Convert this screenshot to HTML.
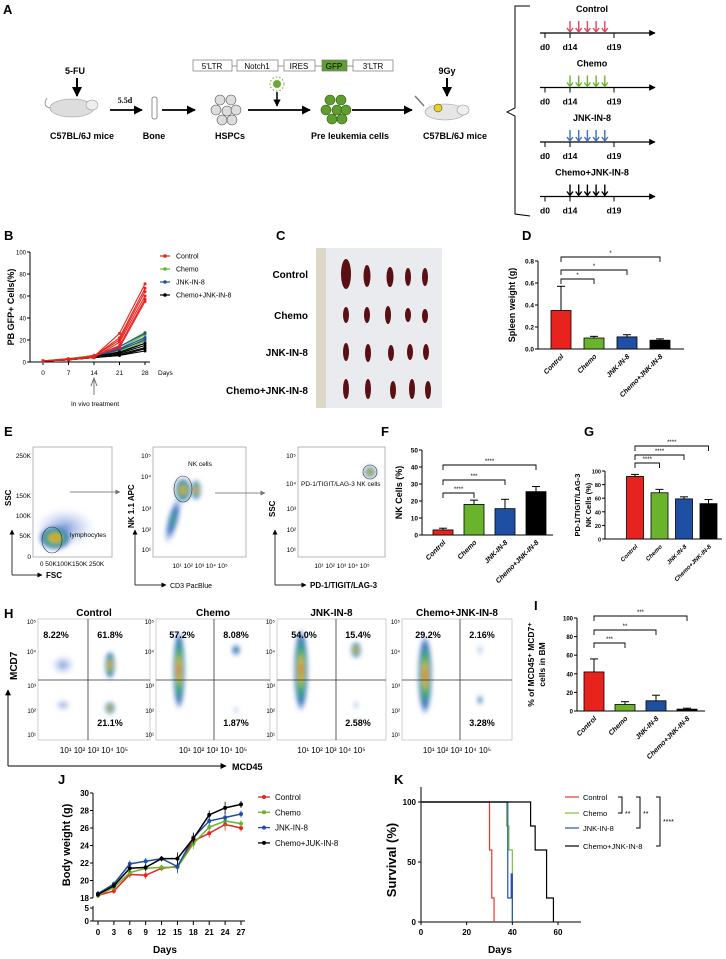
<!DOCTYPE html>
<html><head><meta charset="utf-8"><style>
html,body{margin:0;padding:0;background:#fff;}
svg{display:block;font-family:"Liberation Sans",Arial,sans-serif;}
.b{font-weight:bold;}
</style></head><body>
<svg id="fig" width="726" height="959" viewBox="0 0 726 959" xmlns="http://www.w3.org/2000/svg">
<defs>
<marker id="ah" viewBox="0 0 10 10" refX="9" refY="5" markerWidth="5" markerHeight="5" orient="auto"><path d="M0,0 L10,5 L0,10 z" fill="#000"/></marker>
<marker id="ahg" viewBox="0 0 10 10" refX="9" refY="5" markerWidth="5" markerHeight="5" orient="auto"><path d="M0,0 L10,5 L0,10 z" fill="#777"/></marker>
<filter id="bl" x="-50%" y="-50%" width="200%" height="200%"><feGaussianBlur stdDeviation="2.5"/></filter>
<radialGradient id="dens"><stop offset="0" stop-color="#e0302a"/><stop offset="0.25" stop-color="#f2c21c"/><stop offset="0.5" stop-color="#3cb46c"/><stop offset="0.8" stop-color="#3d6fc4"/><stop offset="1" stop-color="#3d6fc4" stop-opacity="0"/></radialGradient>
<radialGradient id="densb"><stop offset="0" stop-color="#3cb46c"/><stop offset="0.5" stop-color="#3d6fc4"/><stop offset="1" stop-color="#8aa4dd" stop-opacity="0"/></radialGradient>
<radialGradient id="densl"><stop offset="0" stop-color="#5a7fd0" stop-opacity="0.8"/><stop offset="1" stop-color="#a8b9e8" stop-opacity="0"/></radialGradient>
</defs>

<!-- PANEL A -->
<g>
<text x="3" y="14" class="b" font-size="13">A</text>
<text x="75" y="74" class="b" font-size="9" text-anchor="middle">5-FU</text>
<line x1="77" y1="78" x2="77" y2="96" stroke="#000" stroke-width="2" marker-end="url(#ah)"/>
<g><ellipse cx="72" cy="108" rx="22" ry="9" fill="#ddd" stroke="#999" stroke-width="0.6"/><ellipse cx="92" cy="105" rx="6" ry="5" fill="#eee" stroke="#999" stroke-width="0.6"/><path d="M50,108 q-8,-2 -3,-10" stroke="#999" fill="none"/></g>
<text x="82" y="139" class="b" font-size="9" text-anchor="middle">C57BL/6J mice</text>
<text x="125" y="103" class="b" font-size="8" font-family="Liberation Serif" text-anchor="middle">5.5d</text>
<line x1="110" y1="110" x2="142" y2="110" stroke="#000" stroke-width="1.8" marker-end="url(#ah)"/>
<rect x="152" y="97" width="5" height="22" rx="2" fill="#fff" stroke="#777" stroke-width="0.8"/>
<text x="154" y="139" class="b" font-size="9" text-anchor="middle">Bone</text>
<line x1="162" y1="110" x2="195" y2="110" stroke="#000" stroke-width="1.8" marker-end="url(#ah)"/>
<g fill="#ddd" stroke="#555" stroke-width="0.6">
<circle cx="220" cy="100" r="5"/><circle cx="231" cy="100" r="5"/><circle cx="216" cy="110" r="5"/><circle cx="227" cy="111" r="5"/><circle cx="236" cy="110" r="5"/><circle cx="222" cy="120" r="5"/><circle cx="232" cy="120" r="5"/></g>
<text x="230" y="139" class="b" font-size="9" text-anchor="middle">HSPCs</text>
<g font-size="8" text-anchor="middle" stroke-width="0.7">
<line x1="193" y1="66" x2="393" y2="66" stroke="#777"/>
<rect x="193" y="60" width="39" height="11" fill="#fff" stroke="#777"/><text x="212" y="69">5'LTR</text>
<rect x="237" y="60" width="41" height="11" fill="#fff" stroke="#777"/><text x="257" y="69">Notch1</text>
<rect x="284" y="60" width="31" height="11" fill="#fff" stroke="#777"/><text x="299" y="69">IRES</text>
<rect x="322" y="60" width="25" height="11" fill="#5f9e2e" stroke="#777"/><text x="334" y="69">GFP</text>
<rect x="353" y="60" width="40" height="11" fill="#fff" stroke="#777"/><text x="373" y="69">3'LTR</text></g>
<circle cx="277" cy="84" r="4" fill="#6aa832"/>
<circle cx="277" cy="84" r="7" fill="none" stroke="#6aa832" stroke-dasharray="1.5 2"/>
<line x1="277" y1="92" x2="277" y2="106" stroke="#000" stroke-width="1.5" marker-end="url(#ah)"/>
<line x1="248" y1="110" x2="310" y2="110" stroke="#000" stroke-width="1.8" marker-end="url(#ah)"/>
<g fill="#5f9e2e" stroke="#2e5a14" stroke-width="0.6">
<circle cx="330" cy="100" r="5"/><circle cx="341" cy="100" r="5"/><circle cx="326" cy="110" r="5"/><circle cx="337" cy="110" r="5"/><circle cx="346" cy="110" r="5"/><circle cx="332" cy="119" r="5"/><circle cx="342" cy="119" r="5"/></g>
<text x="350" y="139" class="b" font-size="9" text-anchor="middle">Pre leukemia cells</text>
<line x1="352" y1="110" x2="412" y2="110" stroke="#000" stroke-width="1.8" marker-end="url(#ah)"/>
<text x="447" y="74" class="b" font-size="9" text-anchor="middle">9Gy</text>
<line x1="447" y1="78" x2="447" y2="96" stroke="#000" stroke-width="2" marker-end="url(#ah)"/>
<g><ellipse cx="445" cy="112" rx="20" ry="8" fill="#e6e6e6" stroke="#999" stroke-width="0.6"/><ellipse cx="463" cy="110" rx="6" ry="5" fill="#eee" stroke="#999" stroke-width="0.6"/><circle cx="438" cy="108" r="4" fill="#e8d21c" stroke="#333" stroke-width="0.5"/><line x1="415" y1="96" x2="424" y2="106" stroke="#777" stroke-width="1.5"/></g>
<text x="455" y="139" class="b" font-size="9" text-anchor="middle">C57BL/6J mice</text>
<path d="M530,6 L515,6 L515,108 L507,112 L515,116 L515,214 L530,216" fill="none" stroke="#000" stroke-width="1"/>
</g>
<g id="timelines"></g>

<!-- Panel letters -->
<text x="4" y="240" class="b" font-size="13">B</text>
<text x="276" y="240" class="b" font-size="13">C</text>
<text x="522" y="240" class="b" font-size="13">D</text>
<text x="4" y="436" class="b" font-size="13">E</text>
<text x="381" y="436" class="b" font-size="13">F</text>
<text x="584" y="436" class="b" font-size="13">G</text>
<text x="4" y="618" class="b" font-size="13">H</text>
<text x="534" y="610" class="b" font-size="13">I</text>
<text x="58" y="784" class="b" font-size="13">J</text>
<text x="394" y="784" class="b" font-size="13">K</text>

<!-- PANEL C photo -->
<g>
<rect x="316" y="248" width="126" height="160" fill="#e9ebef"/>
<rect x="316" y="248" width="10" height="160" fill="#ddd7c8"/>
<g fill="#5a0f14">
<ellipse cx="346" cy="274" rx="5" ry="15"/><ellipse cx="367" cy="276" rx="3.5" ry="11"/><ellipse cx="390" cy="277" rx="3.5" ry="10"/><ellipse cx="408" cy="277" rx="3" ry="9"/><ellipse cx="425" cy="277" rx="3" ry="9"/>
<ellipse cx="346" cy="315" rx="3" ry="8"/><ellipse cx="367" cy="315" rx="3" ry="8"/><ellipse cx="388" cy="315" rx="3" ry="9"/><ellipse cx="408" cy="315" rx="3" ry="7"/><ellipse cx="425" cy="316" rx="3" ry="7"/>
<ellipse cx="346" cy="352" rx="3" ry="9"/><ellipse cx="368" cy="353" rx="3" ry="9"/><ellipse cx="391" cy="353" rx="3" ry="8"/><ellipse cx="410" cy="352" rx="3" ry="8"/><ellipse cx="426" cy="352" rx="3" ry="8"/>
<ellipse cx="346" cy="389" rx="3" ry="10"/><ellipse cx="368" cy="389" rx="3" ry="10"/><ellipse cx="393" cy="390" rx="3" ry="9"/><ellipse cx="412" cy="389" rx="3" ry="10"/><ellipse cx="428" cy="390" rx="3" ry="9"/></g>
<g class="b" font-size="10" text-anchor="end">
<text x="308" y="278">Control</text>
<text x="308" y="319">Chemo</text>
<text x="308" y="356">JNK-IN-8</text>
<text x="308" y="394">Chemo+JNK-IN-8</text></g>
</g>

<!-- PANEL E flow plots -->
<g font-size="7">
<rect x="33" y="447" width="79" height="110" fill="#fff" stroke="#999" stroke-width="0.7"/>
<ellipse cx="65" cy="528" rx="30" ry="20" fill="url(#densl)" filter="url(#bl)"/>
<ellipse cx="55" cy="538" rx="16" ry="12" fill="url(#dens)" filter="url(#bl)"/>
<ellipse cx="52" cy="540" rx="10" ry="13" fill="none" stroke="#333" stroke-width="0.6"/>
<text x="70" y="537" font-size="6.5">lymphocytes</text>
<g text-anchor="end" font-size="6.5"><text x="31" y="458">250K</text><text x="31" y="498">150K</text><text x="31" y="518">100K</text><text x="31" y="538">50K</text><text x="31" y="559">0</text></g>
<text x="72" y="566" text-anchor="middle" font-size="6.5">0  50K100K150K  250K</text>
<path d="M12,575 L12,530" stroke="#333" stroke-width="1" marker-end="url(#ah)"/><path d="M12,575 L42,575" stroke="#333" stroke-width="1" marker-end="url(#ah)"/>
<text x="0" y="0" transform="translate(11,506) rotate(-90)" class="b" font-size="8">SSC</text>
<text x="46" y="578" class="b" font-size="8">FSC</text>
<line x1="70" y1="492" x2="120" y2="492" stroke="#888" stroke-width="1" marker-end="url(#ahg)"/>

<rect x="153" y="447" width="93" height="110" fill="#fff" stroke="#999" stroke-width="0.7"/>
<ellipse cx="173" cy="520" rx="6" ry="25" fill="url(#densb)" filter="url(#bl)" transform="rotate(15 173 520)"/>
<ellipse cx="183" cy="490" rx="8" ry="12" fill="url(#dens)" filter="url(#bl)"/>
<ellipse cx="196" cy="490" rx="5" ry="10" fill="url(#dens)" filter="url(#bl)"/>
<ellipse cx="183" cy="489" rx="9" ry="13" fill="none" stroke="#333" stroke-width="0.6"/>
<text x="188" y="466" font-size="6.5">NK cells</text>
<g text-anchor="end" font-size="6.5"><text x="151" y="458">10⁵</text><text x="151" y="479">10⁴</text><text x="151" y="511">10³</text><text x="151" y="532">10²</text><text x="151" y="552">10¹</text></g>
<text x="200" y="568" text-anchor="middle" font-size="6.5">10¹  10²  10³  10⁴  10⁵</text>
<path d="M135,585 L135,530" stroke="#333" stroke-width="1" marker-end="url(#ah)"/><path d="M135,585 L166,585" stroke="#333" stroke-width="1" marker-end="url(#ah)"/>
<text x="0" y="0" transform="translate(134,528) rotate(-90)" class="b" font-size="8">NK 1.1 APC</text>
<text x="170" y="588" font-size="7">CD3 PacBlue</text>
<line x1="215" y1="493" x2="265" y2="493" stroke="#888" stroke-width="1" marker-end="url(#ahg)"/>

<rect x="298" y="447" width="87" height="110" fill="#fff" stroke="#999" stroke-width="0.7"/>
<ellipse cx="370" cy="472" rx="6" ry="6" fill="url(#dens)" filter="url(#bl)"/>
<circle cx="370" cy="472" r="7" fill="none" stroke="#333" stroke-width="0.6"/>
<text x="301" y="486" font-size="6.5">PD-1/TIGIT/LAG-3 NK cells</text>
<g text-anchor="end" font-size="6.5"><text x="296" y="458">10⁵</text><text x="296" y="486">10⁴</text><text x="296" y="511">10³</text><text x="296" y="532">10²</text><text x="296" y="552">10¹</text></g>
<text x="342" y="568" text-anchor="middle" font-size="6.5">10¹  10²  10³  10⁴  10⁵</text>
<path d="M275,585 L275,530" stroke="#333" stroke-width="1" marker-end="url(#ah)"/><path d="M275,585 L306,585" stroke="#333" stroke-width="1" marker-end="url(#ah)"/>
<text x="0" y="0" transform="translate(275,517) rotate(-90)" class="b" font-size="8">SSC</text>
<text x="310" y="588" class="b" font-size="8">PD-1/TIGIT/LAG-3</text>
</g>

<!-- PANEL H flow plots -->
<g id="hpanel">
<path d="M8,766 L8,690" stroke="#333" stroke-width="1.2" marker-end="url(#ah)"/><path d="M8,766 L226,766" stroke="#333" stroke-width="1.2" marker-end="url(#ah)"/>
<text x="0" y="0" transform="translate(17,680) rotate(-90)" class="b" font-size="10">MCD7</text>
<text x="232" y="770" class="b" font-size="9">MCD45</text>
</g>

<g id="charts"></g>
</svg>
<script>
// ---------- DATA ----------
const groups = ['Control','Chemo','JNK-IN-8','Chemo+JNK-IN-8'];
const colors = ['#e8231e','#6ab42d','#1f4fa3','#000000'];
// B: PB GFP+ cells
const bDays = [0,7,14,21,28];
const bControl = [[1,2,5,26,71],[1,2,5,22,67],[1,3,5,20,64],[1,2,4,18,60],[1,2,5,15,57],[1,2,6,13,55]];
const bChemo = [[1,3,6,14,27],[1,3,6,12,25],[1,3,5,11,23],[1,2,5,10,21],[1,2,5,9,19],[1,2,5,8,17]];
const bJnk = [[1,2,5,14,26],[1,2,5,12,22],[1,2,5,11,20]];
const bCombo = [[1,2,5,9,17],[1,2,5,8,15],[1,2,4,7,13],[1,2,4,6,12],[1,2,4,6,10]];
const bYTicks = [0,20,40,60,80,100];
// D: spleen weight
const dMeans = [0.35,0.10,0.11,0.08];
const dErr = [0.22,0.015,0.02,0.012];
const dYTicks = [0.0,0.2,0.4,0.6,0.8];
// F: NK cells %
const fMeans = [3,18,15.5,25.5];
const fErr = [1,2.5,5.5,3];
const fYTicks = [0,10,20,30,40,50];
// G
const gMeans = [92,68,59,52];
const gErr = [3,5,3,6];
const gYTicks = [0,20,40,60,80,100];
// I
const iMeans = [42,7,11,2];
const iErr = [14,3,6,1];
const iYTicks = [0,20,40,60,80,100];
// J: body weight
const jDays = [0,3,6,9,12,15,18,21,24,27];
const jControl = [18.3,18.8,20.7,20.6,21.4,21.6,24.5,25.4,26.4,26.0];
const jChemo = [18.3,19.2,20.9,21.4,21.5,21.5,24.2,26.1,26.8,26.5];
const jJnk = [18.5,19.6,21.9,22.2,22.5,21.6,24.9,26.8,27.2,27.6];
const jCombo = [18.4,19.4,21.4,21.5,22.5,22.5,24.8,27.5,28.3,28.7];
const jErr = [0.3,0.3,0.4,0.4,0.3,0.7,0.6,0.5,0.7,0.4];
const jYTicks = [18,20,22,24,26,28,30];
const jLabels = ['Control','Chemo','JNK-IN-8','Chemo+JUK-IN-8'];
// K: survival
const kControlT = [0,30,31,32]; const kControlV = [100,60,20,0];
const kChemoT = [0,37.5,38.5,40]; const kChemoV = [100,80,60,0];
const kJnkT = [0,38,39.5,40]; const kJnkV = [100,20,40,0];
const kComboT = [0,48,50,55,58]; const kComboV = [100,80,60,20,0];
const kXTicks = [0,20,40,60]; const kYTicks = [0,50,100];
// H: quadrant percentages
const hTitles = ['Control','Chemo','JNK-IN-8','Chemo+JNK-IN-8'];
const hUL = ['8.22%','57.2%','54.0%','29.2%'];
const hUR = ['61.8%','8.08%','15.4%','2.16%'];
const hLR = ['21.1%','1.87%','2.58%','3.28%'];

// ---------- HELPERS ----------
const NS='http://www.w3.org/2000/svg';
const root=document.getElementById('charts');
function mk(tag,attrs,parent){const e=document.createElementNS(NS,tag);for(const k in attrs)e.setAttribute(k,attrs[k]);(parent||root).appendChild(e);return e;}
function lin(d0,d1,r0,r1){return v=>r0+(v-d0)*(r1-r0)/(d1-d0);}
function txt(x,y,s,attrs,parent){const t=mk('text',Object.assign({x:x,y:y},attrs||{}),parent);t.textContent=s;return t;}

// ---------- TIMELINES (A) ----------
(function(){
 const tl=document.getElementById('timelines');
 const tColors=['#e0465a','#6ab42d','#3f6fc0','#000'];
 const tNames=['Control','Chemo','JNK-IN-8','Chemo+JNK-IN-8'];
 tNames.forEach((n,i)=>{
  const y=33+i*54.5;
  const lab=txt(592,y-21,n,{'font-size':9,'font-weight':'bold','text-anchor':'middle'},tl);
  
  
  const ln=mk('line',{x1:540,y1:y,x2:655,y2:y,stroke:'#000','stroke-width':1.3,'marker-end':'url(#ah)'},tl);
  
  
  [[545,'d0'],[570,'d14'],[614,'d19']].forEach(([x,s])=>{
   mk('line',{x1:x,y1:y,x2:x,y2:y+5,stroke:'#000'},tl);
   const t=txt(x,y+17,s,{'font-size':8.5,'font-weight':'bold','text-anchor':'middle'},tl);
   
   
  });
  for(let k=0;k<5;k++){
   const ax=570+k*8.7;
   const a=mk('path',{d:`M${ax},${y-12} L${ax},${y-1} M${ax-3},${y-5} L${ax},${y-1} L${ax+3},${y-5}`,stroke:tColors[i],'stroke-width':1.4,fill:'none'},tl);
   
   
  }
 });
})();

// ---------- generic bar chart ----------
function barChart(o){
 const g=mk('g',{});
 
 
 const y=lin(o.ticks[0],o.ticks[o.ticks.length-1],o.y0,o.y1);
 mk('line',{x1:o.ax,y1:o.y0,x2:o.ax,y2:o.y1,stroke:'#000','stroke-width':1},g);
 mk('line',{x1:o.ax,y1:o.y0,x2:o.xend,y2:o.y0,stroke:'#000','stroke-width':1},g);
 o.ticks.forEach(t=>{
  mk('line',{x1:o.ax-3,y1:y(t),x2:o.ax,y2:y(t),stroke:'#000'},g);
  const tl=txt(o.ax-4,y(t)+2.5,o.fmt?o.fmt(t):String(t),{'font-size':o.fs||6.5,'font-weight':'bold','text-anchor':'end'},g);
  
  
 });
 o.means.forEach((m,i)=>{
  const cx=o.c0+i*o.step;
  const top=y(m+o.err[i]);
  mk('line',{x1:cx,y1:y(m),x2:cx,y2:top,stroke:'#000','stroke-width':1},g);
  mk('line',{x1:cx-4,y1:top,x2:cx+4,y2:top,stroke:'#000','stroke-width':1},g);
  const r=mk('rect',{x:cx-o.w/2,y:y(m),width:o.w,height:o.y0-y(m),fill:colors[i],stroke:'#000','stroke-width':0.8},g);
  
  
  const xl=txt(0,0,groups[i],{'font-size':o.lfs||7,'font-weight':'bold','font-style':'italic','text-anchor':'end',transform:`translate(${cx+3},${o.y0+8}) rotate(-45)`},g);
  
  
 });
 o.sig.forEach(s=>{
  const x1=o.c0+s[0]*o.step,x2=o.c0+s[1]*o.step;
  mk('path',{d:`M${x1},${s[2]+5} L${x1},${s[2]} L${x2},${s[2]} L${x2},${s[2]+5}`,fill:'none',stroke:'#000','stroke-width':0.9},g);
  const st=txt((x1+x2)/2,s[2]-2,s[3],{'font-size':6,'text-anchor':'middle'},g);
  
  
 });
 o.ylab.forEach((l,k)=>{
  const yl=txt(0,0,l,{'font-size':o.yfs||9,'font-weight':'bold','text-anchor':'middle',transform:`translate(${o.ylx+k*11},${(o.y0+o.y1)/2}) rotate(-90)`},g);
  
  
 });
}
barChart({name:'spleen-weight-chart',ticks:dYTicks,means:dMeans,err:dErr,ax:538,xend:684,y0:349,y1:261,c0:561,step:33,w:20,fmt:t=>t.toFixed(1),sig:[[0,1,279,'*'],[0,2,270,'*'],[0,3,257,'*']],ylab:['Spleen weight (g)'],ylx:515,yfs:9,lfs:7});
barChart({name:'nk-cells-chart',ticks:fYTicks,means:fMeans,err:fErr,ax:422,xend:553,y0:535,y1:450,c0:443,step:31,w:20,sig:[[0,1,493,'****'],[0,2,480,'***'],[0,3,465,'****']],ylab:['NK Cells (%)'],ylx:402,yfs:9,lfs:7});
barChart({name:'pd1-tigit-lag3-chart',ticks:gYTicks,means:gMeans,err:gErr,ax:605,xend:722,y0:539,y1:471,c0:635,step:24.5,w:17,sig:[[0,1,463,'****'],[0,2,455,'****'],[0,3,446,'****']],ylab:['PD-1/TIGIT/LAG-3','NK Cells (%)'],ylx:580,yfs:7.5,lfs:6,fs:5.5});
barChart({name:'mcd45-mcd7-chart',ticks:iYTicks,means:iMeans,err:iErr,ax:577,xend:705,y0:711,y1:618,c0:594,step:31,w:20,sig:[[0,1,643,'***'],[0,2,630,'**'],[0,3,616,'***']],ylab:['% of MCD45⁺ MCD7⁺','cells in BM'],ylx:534,yfs:8.5,lfs:7,fs:6});

// ---------- B: line chart ----------
(function(){
 const g=mk('g',{});
 
 
 const x=lin(0,28,43,145), y=lin(0,100,362,252);
 mk('line',{x1:30,y1:252,x2:30,y2:362,stroke:'#000'},g);
 mk('line',{x1:30,y1:362,x2:150,y2:362,stroke:'#000'},g);
 bYTicks.forEach(t=>{mk('line',{x1:27,y1:y(t),x2:30,y2:y(t),stroke:'#000'},g);
  const l=txt(26,y(t)+2.5,String(t),{'font-size':6,'text-anchor':'end'},g);
  
  });
 bDays.forEach(d=>{mk('line',{x1:x(d),y1:362,x2:x(d),y2:365,stroke:'#000'},g);
  const l=txt(x(d),375,String(d),{'font-size':6.5,'text-anchor':'middle'},g);
  
  });
 const dl=txt(158,375,'Days',{'font-size':6.5},g);
 
 
 const yt=txt(0,0,'PB GFP+ Cells(%)',{'font-size':9,'font-weight':'bold','text-anchor':'middle',transform:'translate(14,307) rotate(-90)'},g);
 
 
 [bChemo,bJnk,bCombo,bControl].forEach((set,si)=>{
  const ci=[1,2,3,0][si];
  set.forEach(vals=>{
   const p=mk('polyline',{points:vals.map((v,i)=>x(bDays[i])+','+y(v)).join(' '),fill:'none',stroke:colors[ci],'stroke-width':1.1},g);
   
   
   vals.forEach((v,i)=>{const c=mk('circle',{cx:x(bDays[i]),cy:y(v),r:1.5,fill:colors[ci]},g);
    
    });
  });
 });
 groups.forEach((n,i)=>{const ly=256+i*13;
  mk('line',{x1:160,y1:ly,x2:170,y2:ly,stroke:colors[i],'stroke-width':1.2},g);
  mk('circle',{cx:165,cy:ly,r:1.8,fill:colors[i]},g);
  const l=txt(176,ly+2.5,n,{'font-size':7},g);
  
  });
 mk('path',{d:'M94,395 L94,380 M91,386 L94,378 L97,386',fill:'none',stroke:'#555','stroke-width':0.8},g);
 const iv=txt(95,406,'In vivo treatment',{'font-size':6.5,'text-anchor':'middle'},g);
 
 
})();

// ---------- H: flow plots ----------
(function(){
 const hp=document.getElementById('hpanel');
 const boxX=[38,156,277,402], boxW=[112,114,109,110], vx=[88,214,336,460];
 const clouds=[
  [[vx[0]+22,665,5,14,'dens'],[vx[0]+22,708,5,6,'dens'],[vx[0]-25,665,12,10,'densl'],[vx[0]-25,705,8,6,'densl']],
  [[vx[1]-35,670,6,40,'dens'],[vx[1]+22,650,5,6,'densb'],[vx[1]+22,710,3,4,'densl']],
  [[vx[2]-35,670,7,42,'dens'],[vx[2]+20,650,5,8,'dens'],[vx[2]+20,705,3,5,'densl']],
  [[vx[3]-35,675,7,40,'dens'],[vx[3]+20,650,3,6,'densl'],[vx[3]+20,700,3,5,'densb']]];
 hTitles.forEach((t,i)=>{
  const bx=boxX[i];
  const r=mk('rect',{x:bx,y:619,width:boxW[i],height:121,fill:'#fff',stroke:'#bbb','stroke-width':0.7},hp);
  
  
  clouds[i].forEach(c=>{const e=mk('ellipse',{cx:c[0],cy:c[1],rx:c[2],ry:c[3],fill:`url(#${c[4]})`,filter:'url(#bl)'},hp);
   
   });
  mk('line',{x1:bx,y1:680,x2:bx+boxW[i],y2:680,stroke:'#333','stroke-width':0.8},hp);
  mk('line',{x1:vx[i],y1:619,x2:vx[i],y2:740,stroke:'#333','stroke-width':0.8},hp);
  const ti=txt(bx+boxW[i]/2,616,t,{'font-size':10,'font-weight':'bold','text-anchor':'middle'},hp);
  
  
  const a=txt(vx[i]-32,638,hUL[i],{'font-size':9,'font-weight':'bold','text-anchor':'middle'},hp);
  
  
  const b=txt(vx[i]+22,638,hUR[i],{'font-size':9,'font-weight':'bold','text-anchor':'middle'},hp);
  
  
  const c=txt(vx[i]+22,726,hLR[i],{'font-size':9,'font-weight':'bold','text-anchor':'middle'},hp);
  
  
  ['10⁵','10⁴','10³','10²','10¹'].forEach((s,k)=>{const l=txt(bx-2,[622,652,686,711,735][k]+2,s,{'font-size':6,'text-anchor':'end'},hp);
   
   });
  const xl=txt(bx+boxW[i]/2,753,'10¹  10²  10³  10⁴  10⁵',{'font-size':8,'text-anchor':'middle'},hp);
  
  
 });
})();

// ---------- J: body weight ----------
(function(){
 const g=mk('g',{});
 
 
 const x=lin(0,27,98,241), y=lin(18,30,898,793), y2=lin(0,5,921,908);
 mk('line',{x1:93,y1:793,x2:93,y2:898,stroke:'#000'},g);
 mk('line',{x1:93,y1:906,x2:93,y2:921,stroke:'#000'},g);
 mk('line',{x1:93,y1:921,x2:245,y2:921,stroke:'#000'},g);
 jYTicks.forEach(t=>{mk('line',{x1:90,y1:y(t),x2:93,y2:y(t),stroke:'#000'},g);
  const l=txt(89,y(t)+3,String(t),{'font-size':8,'font-weight':'bold','text-anchor':'end'},g);
  
  });
 [0,5].forEach(t=>{mk('line',{x1:90,y1:y2(t),x2:93,y2:y2(t),stroke:'#000'},g);
  const l=txt(89,y2(t)+3,String(t),{'font-size':8,'font-weight':'bold','text-anchor':'end'},g);
  
  });
 jDays.forEach(d=>{mk('line',{x1:x(d),y1:921,x2:x(d),y2:925,stroke:'#000'},g);
  const l=txt(x(d),935,String(d),{'font-size':8,'font-weight':'bold','text-anchor':'middle'},g);
  
  });
 const dl=txt(165,953,'Days',{'font-size':10,'font-weight':'bold','text-anchor':'middle'},g);
 
 
 const yt=txt(0,0,'Body weight (g)',{'font-size':11,'font-weight':'bold','text-anchor':'middle',transform:'translate(70,845) rotate(-90)'},g);
 
 
 const series=[jControl,jChemo,jJnk,jCombo];
 series.forEach((s,si)=>{
  const p=mk('polyline',{points:s.map((v,i)=>x(jDays[i])+','+y(v)).join(' '),fill:'none',stroke:colors[si],'stroke-width':1.5},g);
  
  
  s.forEach((v,i)=>{
   mk('line',{x1:x(jDays[i]),y1:y(v-jErr[i]),x2:x(jDays[i]),y2:y(v+jErr[i]),stroke:colors[si],'stroke-width':0.8},g);
   const c=mk('circle',{cx:x(jDays[i]),cy:y(v),r:2,fill:colors[si]},g);
   
   
  });
 });
 jLabels.forEach((n,i)=>{const ly=797+i*15.3;
  mk('line',{x1:258,y1:ly,x2:270,y2:ly,stroke:colors[i],'stroke-width':1.3},g);
  mk('circle',{cx:264,cy:ly,r:2,fill:colors[i]},g);
  const l=txt(275,ly+3,n,{'font-size':8},g);
  
  });
})();

// ---------- K: survival ----------
(function(){
 const g=mk('g',{});
 
 
 const x=lin(0,60,421,558), y=lin(0,100,922,802);
 mk('line',{x1:421,y1:787,x2:421,y2:922,stroke:'#000'},g);
 mk('line',{x1:421,y1:922,x2:581,y2:922,stroke:'#000'},g);
 kYTicks.forEach(t=>{mk('line',{x1:418,y1:y(t),x2:421,y2:y(t),stroke:'#000'},g);
  const l=txt(416,y(t)+3,String(t),{'font-size':8,'font-weight':'bold','text-anchor':'end'},g);
  
  });
 kXTicks.forEach(t=>{mk('line',{x1:x(t),y1:922,x2:x(t),y2:925,stroke:'#000'},g);
  const l=txt(x(t),935,String(t),{'font-size':8,'font-weight':'bold','text-anchor':'middle'},g);
  
  });
 const dl=txt(500,953,'Days',{'font-size':10,'font-weight':'bold','text-anchor':'middle'},g);
 
 
 const yt=txt(0,0,'Survival (%)',{'font-size':13,'font-weight':'bold','text-anchor':'middle',transform:'translate(396,860) rotate(-90)'},g);
 
 
 const kc=['#f0322a','#7cc242','#2352b0','#000'];
 [[kControlT,kControlV],[kChemoT,kChemoV],[kJnkT,kJnkV],[kComboT,kComboV]].forEach((s,si)=>{
  let d=`M${x(s[0][0])},${y(s[1][0])}`;
  for(let i=1;i<s[0].length;i++){d+=` L${x(s[0][i])},${y(s[1][i-1])} L${x(s[0][i])},${y(s[1][i])}`;}
  const p=mk('path',{d:d,fill:'none',stroke:kc[si],'stroke-width':1.2},g);
  
  
 });
 const kl=['Control','Chemo','JNK-IN-8','Chemo+JNK-IN-8'];
 kl.forEach((n,i)=>{const ly=[797,813,828,846][i];
  mk('line',{x1:565,y1:ly,x2:579,y2:ly,stroke:kc[i],'stroke-width':1.2},g);
  const l=txt(583,ly+3,n,{'font-size':7.5},g);
  
  });
 [[622,797,813,'**',816],[640,797,828,'**',816],[660,797,846,'****',824]].forEach(b=>{
  mk('path',{d:`M${b[0]-4},${b[1]} L${b[0]},${b[1]} L${b[0]},${b[2]} L${b[0]-4},${b[2]}`,fill:'none',stroke:'#000','stroke-width':1},g);
  const s=txt(b[0]+3,b[4],b[3],{'font-size':7},g);
  
  
 });
})();
</script>
</body></html>
